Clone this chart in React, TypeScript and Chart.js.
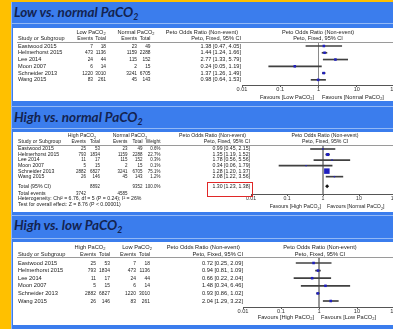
import React, { useEffect, useRef } from "react";
import { Chart, registerables } from "chart.js";
Chart.register(...registerables);

// ---------------- data ----------------
const studies = ["Eastwood 2015", "Helmerhorst 2015", "Lee 2014", "Moon 2007", "Schneider 2013", "Wang 2015"];

const lowEvents = [7, 473, 24, 6, 1220, 83];
const lowTotal = [18, 1136, 44, 14, 3010, 261];
const normalEvents = [23, 1159, 115, 2, 3241, 45];
const normalTotal = [49, 2288, 152, 15, 6705, 143];
const highEvents = [25, 793, 11, 5, 2882, 26];
const highTotal = [53, 1834, 17, 15, 6827, 146];

// Low vs normal
const lnOR = [1.38, 1.44, 2.77, 0.24, 1.37, 0.98];
const lnLo = [0.47, 1.24, 1.33, 0.05, 1.26, 0.64];
const lnHi = [4.05, 1.66, 5.79, 1.19, 1.49, 1.53];

// High vs normal
const hnWeight = [0.6, 22.7, 0.3, 0.1, 75.1, 1.2];
const hnOR = [0.99, 1.35, 1.78, 0.34, 1.28, 2.08];
const hnLo = [0.45, 1.19, 0.56, 0.06, 1.2, 1.22];
const hnHi = [2.15, 1.52, 5.56, 1.79, 1.37, 3.56];
const hnTotal = [1.3, 1.23, 1.38];
const hnHeterogeneity = "Heterogeneity: Chi² = 6.76, df = 5 (P = 0.24); I² = 26%";
const hnOverall = "Test for overall effect: Z = 8.76 (P < 0.00001)";

// High vs low
const hlOR = [0.72, 0.94, 0.66, 1.48, 0.93, 2.04];
const hlLo = [0.25, 0.81, 0.22, 0.34, 0.86, 1.29];
const hlHi = [2.09, 1.09, 2.04, 6.46, 1.02, 3.22];

const axisTicks = [0.01, 0.1, 1, 10, 100];

// ---------------- layout / style ----------------
const FONT = '"Liberation Sans", Arial, sans-serif';
const PANEL_LEFT = 13;
const CANVAS_W = 395;
const PLOT_RIGHT = 395;
const TICK_LEN = 2;
const NUM_SX = 0.86;
const YELLOW = "#ffc000";
const BLUE = "#3b7ded";
const LIGHT = "#93b9f6";
const TITLE_COLOR = "#132350";
const TEXT = "#222";

const sum = (a: number[]) => a.reduce((s, v) => s + v, 0);
const ci = (o: number, l: number, h: number) => `${o.toFixed(2)} [${l.toFixed(2)}, ${h.toFixed(2)}]`;

function drawRich(
  ctx: CanvasRenderingContext2D,
  text: string,
  x: number,
  y: number,
  align: string,
  size: number,
  bold = false,
  sx = 1
) {
  const parts: { t: string; sub: boolean }[] = [];
  let buf = "";
  for (let i = 0; i < text.length; i++) {
    if (text[i] === "~") {
      if (buf) parts.push({ t: buf, sub: false });
      buf = "";
      parts.push({ t: text[i + 1], sub: true });
      i++;
    } else buf += text[i];
  }
  if (buf) parts.push({ t: buf, sub: false });
  const fN = `${bold ? "bold " : ""}${size}px ${FONT}`;
  const fS = `${bold ? "bold " : ""}${size * 0.7}px ${FONT}`;
  let w = 0;
  const ws = parts.map((p) => {
    ctx.font = p.sub ? fS : fN;
    const m = ctx.measureText(p.t).width * sx;
    w += m;
    return m;
  });
  let cx = align === "right" ? x - w : align === "center" ? x - w / 2 : x;
  ctx.textAlign = "left";
  ctx.textBaseline = "middle";
  ctx.fillStyle = TEXT;
  parts.forEach((p, k) => {
    ctx.font = p.sub ? fS : fN;
    ctx.save();
    ctx.translate(cx, 0);
    ctx.scale(sx, 1);
    ctx.fillText(p.t, 0, y + (p.sub ? size * 0.35 : 0));
    ctx.restore();
    cx += ws[k];
  });
}

interface PanelCfg {
  top: number;
  height: number;
  plotLeft: number;
  rowY0: number;
  rowStep: number;
  headerLineY: number;
  axisY: number;
  font: number;
  ors: number[];
  los: number[];
  his: number[];
  radii: number[];
  total?: { or: number; index: number };
  drawText: (ctx: CanvasRenderingContext2D, rowY: (i: number) => number) => void;
}

function ForestPanel({ cfg }: { cfg: PanelCfg }) {
  const ref = useRef<HTMLCanvasElement>(null);
  useEffect(() => {
    const canvas = ref.current!;
    const yMin = (cfg.headerLineY - cfg.rowY0) / cfg.rowStep;
    const yMax = (cfg.axisY - cfg.rowY0) / cfg.rowStep;
    const axisH = TICK_LEN + cfg.font;
    const padTop = cfg.headerLineY - cfg.top;
    const padBottom = cfg.top + cfg.height - cfg.axisY - axisH;
    const rows = cfg.ors.map((_, i) => i);
    const datasets: any[] = [
      {
        type: "line",
        data: [{ x: 1, y: yMin }, { x: 1, y: yMax }],
        borderColor: "#8a8a8a",
        borderWidth: 1,
        pointRadius: 0,
        order: 3,
      },
      {
        type: "bar",
        indexAxis: "y",
        data: rows.map((i) => ({ x: [cfg.los[i], cfg.his[i]], y: i })),
        backgroundColor: "#404040",
        barThickness: 1,
        borderWidth: 0,
        order: 2,
      },
      {
        type: "scatter",
        data: rows.map((i) => ({ x: cfg.ors[i], y: i })),
        pointStyle: "rect",
        pointRadius: cfg.radii,
        backgroundColor: "#1f1fbf",
        borderWidth: 0,
        order: 1,
      },
    ];
    if (cfg.total) {
      datasets.push({
        type: "scatter",
        data: [{ x: cfg.total.or, y: cfg.total.index }],
        pointStyle: "rectRot",
        pointRadius: 2,
        backgroundColor: "#111",
        borderWidth: 0,
        order: 0,
      });
    }
    const tablePlugin = {
      id: "table",
      afterDraw(chart: any) {
        const ctx = chart.ctx as CanvasRenderingContext2D;
        const ys = chart.scales.y;
        ctx.save();
        ctx.translate(-PANEL_LEFT, -cfg.top);
        ctx.strokeStyle = "#9a9a9a";
        ctx.lineWidth = 1;
        ctx.beginPath();
        ctx.moveTo(17, Math.round(cfg.headerLineY) + 0.5);
        ctx.lineTo(410, Math.round(cfg.headerLineY) + 0.5);
        ctx.stroke();
        cfg.drawText(ctx, (i: number) => ys.getPixelForValue(i) + cfg.top);
        ctx.restore();
      },
    };
    const chart = new Chart(canvas, {
      type: "bar",
      data: { datasets },
      options: {
        animation: false,
        responsive: false,
        devicePixelRatio: 1,
        events: [],
        layout: {
          padding: {
            left: cfg.plotLeft - PANEL_LEFT,
            right: PANEL_LEFT + CANVAS_W - PLOT_RIGHT,
            top: padTop,
            bottom: padBottom,
          },
        },
        plugins: { legend: { display: false }, tooltip: { enabled: false } },
        scales: {
          x: {
            type: "logarithmic",
            min: 0.01,
            max: 100,
            position: "bottom",
            offset: false,
            afterBuildTicks: (s: any) => {
              s.ticks = axisTicks.map((v) => ({ value: v }));
            },
            ticks: {
              callback: (v: any) => String(v),
              font: { size: cfg.font, family: FONT, lineHeight: 1 },
              color: "#333",
              padding: 0,
              maxRotation: 0,
              autoSkip: false,
            },
            grid: { display: true, drawOnChartArea: false, drawTicks: true, tickLength: TICK_LEN, color: "#555", offset: false },
            border: { display: true, color: "#555", width: 1 },
          },
          y: { type: "linear", reverse: true, min: yMin, max: yMax, display: false, offset: false, grid: { offset: false } },
        },
      } as any,
      plugins: [tablePlugin],
    });
    return () => chart.destroy();
  }, []);
  return (
    <div
      style={{
        position: "absolute",
        left: PANEL_LEFT,
        top: cfg.top,
        width: 393 - PANEL_LEFT,
        height: cfg.height,
        background: "#fff",
        overflow: "hidden",
      }}
    >
      <canvas ref={ref} width={CANVAS_W} height={cfg.height} style={{ display: "block", width: CANVAS_W, height: cfg.height }} />
    </div>
  );
}

// ---------- panel configs ----------
type Pos = {
  g1: number;
  g2: number;
  c: number[];
  ciRight: number;
  hdrRight: number;
  center: number;
  gy: number;
  hy: number;
  fy: number;
  favL: number;
  favR: number;
  favLeft: string;
  favRight: string;
};

function makeSimple(
  top: number,
  height: number,
  plotLeft: number,
  rowY0: number,
  rowStep: number,
  headerLineY: number,
  axisY: number,
  font: number,
  g1: string,
  g2: string,
  e1: number[],
  t1: number[],
  e2: number[],
  t2: number[],
  ors: number[],
  los: number[],
  his: number[],
  pos: Pos
): PanelCfg {
  return {
    top,
    height,
    plotLeft,
    rowY0,
    rowStep,
    headerLineY,
    axisY,
    font,
    ors,
    los,
    his,
    radii: ors.map(() => 1.8),
    drawText: (ctx, rowY) => {
      drawRich(ctx, g1, pos.g1, pos.gy, "center", font);
      drawRich(ctx, g2, pos.g2, pos.gy, "center", font);
      drawRich(ctx, "Peto Odds Ratio (Non-event)", pos.hdrRight, pos.gy, "right", font);
      drawRich(ctx, "Peto Odds Ratio (Non-event)", pos.center, pos.gy, "center", font);
      drawRich(ctx, "Study or Subgroup", 18, pos.hy, "left", font);
      ["Events", "Total", "Events", "Total"].forEach((h, k) => drawRich(ctx, h, pos.c[k], pos.hy, "right", font, false, 0.92));
      drawRich(ctx, "Peto, Fixed, 95% CI", pos.ciRight, pos.hy, "right", font);
      drawRich(ctx, "Peto, Fixed, 95% CI", pos.center, pos.hy, "center", font);
      studies.forEach((s, i) => {
        const y = rowY(i);
        drawRich(ctx, s, 18, y, "left", font);
        [e1, t1, e2, t2].forEach((arr, k) => drawRich(ctx, String(arr[i]), pos.c[k], y, "right", font, false, NUM_SX));
        drawRich(ctx, ci(ors[i], los[i], his[i]), pos.ciRight, y, "right", font);
      });
      drawRich(ctx, pos.favLeft, pos.favL, pos.fy, "right", font);
      drawRich(ctx, pos.favRight, pos.favR, pos.fy, "left", font);
    },
  };
}

const panel1 = makeSimple(28, 73, 242, 46, 6.77, 42, 85, 5.6, "Low PaCO~2", "Normal PaCO~2", lowEvents, lowTotal, normalEvents, normalTotal, lnOR, lnLo, lnHi, {
  g1: 91,
  g2: 136,
  c: [93, 106, 137, 150.5],
  ciRight: 241,
  hdrRight: 238,
  center: 318,
  gy: 32,
  hy: 38,
  fy: 97,
  favL: 314,
  favR: 322,
  favLeft: "Favours [Low PaCO~2]",
  favRight: "Favours [Normal PaCO~2]",
});

const panel3 = makeSimple(242, 83, 243, 263, 7.6, 257, 307, 5.7, "High PaCO~2", "Low PaCO~2", highEvents, highTotal, lowEvents, lowTotal, hlOR, hlLo, hlHi, {
  g1: 90,
  g2: 137,
  c: [96, 110, 136, 150],
  ciRight: 243,
  hdrRight: 240,
  center: 320,
  gy: 247,
  hy: 254,
  fy: 317,
  favL: 314,
  favR: 321,
  favLeft: "Favours [High PaCO~2]",
  favRight: "Favours [Low PaCO~2]",
});

const P2F = 5.2;
const totalIdx = 6.72;
const panel2: PanelCfg = {
  top: 132,
  height: 80,
  plotLeft: 251,
  rowY0: 149,
  rowStep: 5.53,
  headerLineY: 145,
  axisY: 194,
  font: P2F,
  ors: hnOR,
  los: hnLo,
  his: hnHi,
  radii: hnWeight.map((w) => Math.max(1, Math.sqrt(w) * 0.45)),
  total: { or: hnTotal[0], index: totalIdx },
  drawText: (ctx, rowY) => {
    const f = P2F;
    const cols = [86, 100, 127.5, 142.5, 160.5];
    drawRich(ctx, "High PaCO~2", 82, 136, "center", f);
    drawRich(ctx, "Normal PaCO~2", 130, 136, "center", f);
    drawRich(ctx, "Peto Odds Ratio (Non-event)", 246, 136, "right", f);
    drawRich(ctx, "Peto Odds Ratio (Non-event)", 325, 136, "center", f);
    drawRich(ctx, "Study or Subgroup", 18, 142, "left", f);
    ["Events", "Total", "Events", "Total", "Weight"].forEach((h, k) => drawRich(ctx, h, cols[k], 142, "right", f, false, 0.92));
    drawRich(ctx, "Peto, Fixed, 95% CI", 250, 142, "right", f);
    drawRich(ctx, "Peto, Fixed, 95% CI", 325, 142, "center", f);
    studies.forEach((s, i) => {
      const y = rowY(i);
      drawRich(ctx, s, 18, y, "left", f);
      [highEvents, highTotal, normalEvents, normalTotal].forEach((arr, k) =>
        drawRich(ctx, String(arr[i]), cols[k], y, "right", f, false, NUM_SX)
      );
      drawRich(ctx, hnWeight[i].toFixed(1) + "%", cols[4], y, "right", f, false, NUM_SX);
      drawRich(ctx, ci(hnOR[i], hnLo[i], hnHi[i]), 250, y, "right", f);
    });
    const ty = rowY(totalIdx);
    drawRich(ctx, "Total (95% CI)", 18, ty, "left", f);
    drawRich(ctx, String(sum(highTotal)), cols[1], ty, "right", f, false, NUM_SX);
    drawRich(ctx, String(sum(normalTotal)), cols[3], ty, "right", f, false, NUM_SX);
    drawRich(ctx, sum(hnWeight).toFixed(1) + "%", cols[4], ty, "right", f, false, NUM_SX);
    drawRich(ctx, ci(hnTotal[0], hnTotal[1], hnTotal[2]), 250, ty, "right", f);
    ctx.strokeStyle = "#e02828";
    ctx.lineWidth = 1;
    ctx.strokeRect(207.5, 182.5, 45, 14);
    const ey = rowY(8.1);
    drawRich(ctx, "Total events", 18, ey, "left", f);
    drawRich(ctx, String(sum(highEvents)), cols[0], ey, "right", f, false, NUM_SX);
    drawRich(ctx, String(sum(normalEvents)), cols[2], ey, "right", f, false, NUM_SX);
    drawRich(ctx, hnHeterogeneity, 18, rowY(9.05), "left", f);
    drawRich(ctx, hnOverall, 18, rowY(10.0), "left", f);
    drawRich(ctx, "Favours [High PaCO~2]", 321, 207, "right", f);
    drawRich(ctx, "Favours [Normal PaCO~2]", 327, 207, "left", f);
  },
};

function Title({ y, children }: { y: number; children: React.ReactNode }) {
  return (
    <div
      style={{
        position: "absolute",
        left: 14,
        top: y - 9,
        height: 18,
        lineHeight: "18px",
        font: "italic bold 13.5px Lato, sans-serif",
        color: TITLE_COLOR,
        whiteSpace: "nowrap",
      }}
    >
      {children}
    </div>
  );
}

const Sub = () => <span style={{ fontSize: "0.65em", position: "relative", top: "0.35em" }}>2</span>;

function HLine({ y }: { y: number }) {
  return <div style={{ position: "absolute", left: 11, top: y, width: 382, height: 1, background: LIGHT }} />;
}

export default function App() {
  return (
    <div style={{ position: "fixed", left: 0, top: 0, width: 393, height: 329, overflow: "hidden", background: YELLOW }}>
      <div style={{ position: "absolute", left: 11, top: 2, right: 0, bottom: 0, background: BLUE }} />
      <div style={{ position: "absolute", left: 11, top: 2, width: 1, bottom: 0, background: LIGHT }} />
      <HLine y={23} />
      <HLine y={106} />
      <HLine y={128} />
      <HLine y={215} />
      <HLine y={238} />
      <Title y={13}>
        Low vs. normal PaCO<Sub />
      </Title>
      <Title y={118}>
        High vs. normal PaCO<Sub />
      </Title>
      <Title y={226}>
        High vs. low PaCO<Sub />
      </Title>
      <ForestPanel cfg={panel1} />
      <ForestPanel cfg={panel2} />
      <ForestPanel cfg={panel3} />
    </div>
  );
}
